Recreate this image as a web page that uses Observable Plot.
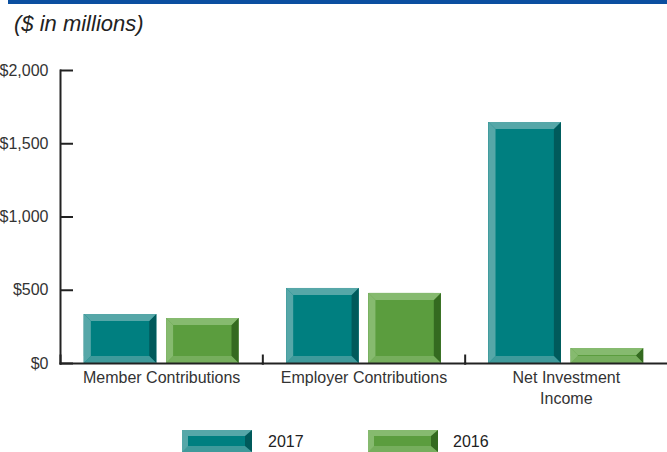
<!DOCTYPE html>
<html>
<head>
<meta charset="utf-8">
<script src="https://cdn.jsdelivr.net/npm/d3@7"></script>
<script src="https://cdn.jsdelivr.net/npm/@observablehq/plot@0.6"></script>
<style>
  html, body { margin: 0; padding: 0; background: #fff; overflow: hidden; }
  body { width: 667px; height: 452px; font-family: "Liberation Sans", Arial, sans-serif; color: #333; }
  #topbar { height: 4px; margin-left: 8px; background: #0b4fa0; }
  #subtitle { height: 41px; box-sizing: border-box; padding: 7px 0 0 14px; font-size: 22px; font-style: italic; color: #222; line-height: 26px; }
  #chart svg { display: block; }
  #legend { position: relative; height: 42px; }
  .sw { position: absolute; top: 20px; width: 57px; height: 10px; border-style: solid; border-width: 6px 7px 6px 6px; }
  .lt { position: absolute; top: 23px; font-size: 16px; color: #222; line-height: 18px; }
</style>
</head>
<body>
<div id="topbar"></div>
<div id="subtitle">($ in millions)</div>
<div id="chart"></div>
<div id="legend"></div>
<script>
const categories = ["Member Contributions", "Employer Contributions", "Net Investment\nIncome"];
const years = ["2017", "2016"];
const values2017 = [334, 512, 1645];
const values2016 = [307, 478, 102];
const yTicks = [0, 500, 1000, 1500, 2000];

const palette = {
  "2017": {light: "#56a7a8", main: "#007f80", dark: "#005a5b", bottom: "#3f9a9b"},
  "2016": {light: "#86ba6f", main: "#5b9d3e", dark: "#346a20", bottom: "#76ae5d"}
};

const data = categories.flatMap((c, i) => [
  {category: c, year: "2017", value: values2017[i]},
  {category: c, year: "2016", value: values2016[i]}
]);

const bevel = 7;
function bevelRender(p) {
  return function(index, scales, values, dimensions, context, next) {
    const g = next(index, scales, values, dimensions, context);
    const ns = "http://www.w3.org/2000/svg";
    g.querySelectorAll("rect").forEach(r => {
      const x0 = +r.getAttribute("x"), y0 = +r.getAttribute("y");
      const w = +r.getAttribute("width"), h = +r.getAttribute("height");
      const x1 = x0 + w, y1 = y0 + h;
      const b = Math.min(bevel, h / 2 - 0.5, w / 2);
      const polys = [
        [p.light, [[x0, y0], [x1, y0], [x1 - b, y0 + b], [x0 + b, y0 + b]]],
        [p.light, [[x0, y0], [x0 + b, y0 + b], [x0 + b, y1 - b], [x0, y1]]],
        [p.bottom, [[x0, y1], [x0 + b, y1 - b], [x1 - b, y1 - b], [x1, y1]]],
        [p.dark, [[x1, y0], [x1, y1], [x1 - b, y1 - b], [x1 - b, y0 + b]]]
      ];
      const parent = r.parentNode;
      polys.forEach(([fill, pts]) => {
        const poly = document.createElementNS(ns, "polygon");
        poly.setAttribute("points", pts.map(q => q.join(",")).join(" "));
        poly.setAttribute("fill", fill);
        parent.insertBefore(poly, r.nextSibling);
      });
    });
    return g;
  };
}

function barLayers(year) {
  const d = data.filter(r => r.year === year);
  const p = palette[year];
  const base = {fx: "category", x: "year", y: "value"};
  return [
    Plot.barY(d, {...base, fill: p.dark}),
    Plot.barY(d, {...base, fill: p.bottom, insetRight: bevel}),
    Plot.barY(d, {...base, fill: p.light, insetRight: bevel, insetBottom: bevel}),
    Plot.barY(d, {...base, fill: p.main, insetRight: bevel, insetBottom: bevel, insetTop: bevel, insetLeft: bevel}),
    Plot.barY(d, {...base, fill: p.main, render: bevelRender(p)})
  ];
}

const chart = Plot.plot({
  width: 667,
  height: 365,
  marginLeft: 60,
  marginRight: 0,
  marginTop: 25,
  marginBottom: 47,
  style: {fontSize: "16px", fontFamily: "'Liberation Sans', Arial, sans-serif", color: "#333", background: "white"},
  fx: {domain: categories, padding: 0, label: null, axis: null, round: false},
  x: {domain: years, axis: null, paddingInner: 0.12, paddingOuter: 0.29, align: 0.5, round: false},
  y: {domain: [0, 2000], axis: null},
  marks: [
    ...barLayers("2017"),
    ...barLayers("2016"),
    Plot.frame({anchor: "bottom", stroke: "#222", strokeWidth: 2}),
    Plot.frame({anchor: "left", stroke: "#222", strokeWidth: 2, insetTop: 285}),
    Plot.frame({anchor: "left", stroke: "#222", strokeWidth: 2, fx: () => categories[0]}),
    Plot.axisY({ticks: yTicks, tickFormat: d => "$" + d3.format(",")(d), tickSize: -13, tickPadding: 25,
                stroke: "#222", strokeWidth: 2, fill: "#333", fontSize: 16, label: null}),
    Plot.axisFx({anchor: "bottom", tickSize: 0, tickPadding: 4, label: null, lineHeight: 1.33, fill: "#333", fontSize: 16})
  ]
});
document.getElementById("chart").appendChild(chart);

const legend = document.getElementById("legend");
const legendPos = {"2017": [182, 268], "2016": [368, 453]};
years.forEach(y => {
  const p = palette[y];
  const sw = document.createElement("div");
  sw.className = "sw";
  sw.style.left = legendPos[y][0] + "px";
  sw.style.background = p.main;
  sw.style.borderColor = `${p.light} ${p.dark} ${p.bottom} ${p.light}`;
  legend.appendChild(sw);
  const t = document.createElement("div");
  t.className = "lt";
  t.style.left = legendPos[y][1] + "px";
  t.textContent = y;
  legend.appendChild(t);
});
</script>
</body>
</html>
